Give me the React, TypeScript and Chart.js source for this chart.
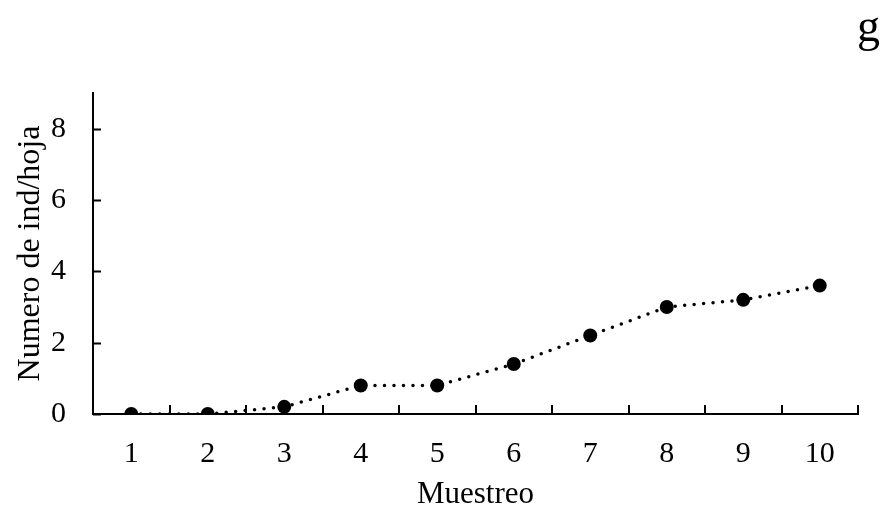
import React, { useEffect, useRef } from 'react';
import { Chart, registerables } from 'chart.js';

Chart.register(...registerables);

const categories = ['1', '2', '3', '4', '5', '6', '7', '8', '9', '10'];
const values = [0, 0, 0.2, 0.8, 0.8, 1.4, 2.2, 3.0, 3.2, 3.6];
const yTickValues = [0, 2, 4, 6, 8];
const yMin = 0;
const yMax = 9;
const panelLabel = 'g';
const xTitle = 'Muestreo';
const yTitle = 'Numero de ind/hoja';

const FONT = "'Liberation Serif', 'Times New Roman', serif";

const inwardTicks = {
  id: 'inwardTicks',
  afterDraw(chart: any) {
    const { ctx, chartArea, scales } = chart;
    const xs = scales.x;
    const ys = scales.y;
    ctx.save();
    ctx.strokeStyle = '#000';
    ctx.lineWidth = 2;
    ctx.beginPath();
    yTickValues.forEach((v) => {
      const py = Math.round(ys.getPixelForValue(v)) + 0.5;
      ctx.moveTo(chartArea.left, py);
      ctx.lineTo(chartArea.left + 8, py);
    });
    const half = (xs.getPixelForValue(1) - xs.getPixelForValue(0)) / 2;
    for (let i = 0; i < categories.length; i++) {
      const px = Math.round(xs.getPixelForValue(i) + half);
      ctx.moveTo(px, chartArea.bottom);
      ctx.lineTo(px, chartArea.bottom - 9);
    }
    ctx.stroke();
    ctx.fillStyle = '#000';
    ctx.font = `46px ${FONT}`;
    ctx.textAlign = 'right';
    ctx.textBaseline = 'alphabetic';
    ctx.fillText(panelLabel, 880, 41);
    ctx.restore();
  },
};

export default function App() {
  const ref = useRef<HTMLCanvasElement>(null);
  useEffect(() => {
    if (!ref.current) return;
    const chart = new Chart(ref.current, {
      type: 'line',
      data: {
        labels: categories,
        datasets: [
          {
            data: values,
            borderColor: '#000',
            borderWidth: 3.5,
            borderDash: [0, 9.5],
            borderCapStyle: 'round',
            backgroundColor: '#000',
            pointRadius: 7,
            pointBorderWidth: 0,
            pointBackgroundColor: '#000',
            tension: 0,
            fill: false,
          },
        ],
      },
      options: {
        responsive: false,
        animation: false,
        layout: { padding: { top: 93, right: 26, bottom: 0, left: 0 } },
        plugins: { legend: { display: false }, tooltip: { enabled: false } },
        scales: {
          x: {
            type: 'category',
            offset: true,
            grid: { display: false, drawTicks: false },
            border: { display: true, color: '#000', width: 2 },
            ticks: { color: '#000', font: { family: FONT, size: 30 }, padding: 22 },
            title: {
              display: true,
              text: xTitle,
              color: '#000',
              font: { family: FONT, size: 31 },
              padding: { top: 0, bottom: 2 },
            },
            afterFit(scale: any) {
              scale.height = 101;
            },
          },
          y: {
            min: yMin,
            max: yMax,
            grid: { display: false, drawTicks: false },
            border: { display: true, color: '#000', width: 2 },
            ticks: { color: '#000', font: { family: FONT, size: 30 }, padding: 27, stepSize: 2 },
            afterBuildTicks(scale: any) {
              scale.ticks = yTickValues.map((v) => ({ value: v }));
            },
            title: {
              display: true,
              text: yTitle,
              color: '#000',
              font: { family: FONT, size: 32 },
              padding: { top: 11, bottom: 0 },
            },
            afterFit(scale: any) {
              scale.width = 93;
            },
          },
        },
      },
      plugins: [inwardTicks],
    });
    return () => chart.destroy();
  }, []);
  return (
    <div style={{ position: 'absolute', left: 0, top: 0, width: 884, height: 515, background: '#fff' }}>
      <canvas ref={ref} width={884} height={515} />
    </div>
  );
}
